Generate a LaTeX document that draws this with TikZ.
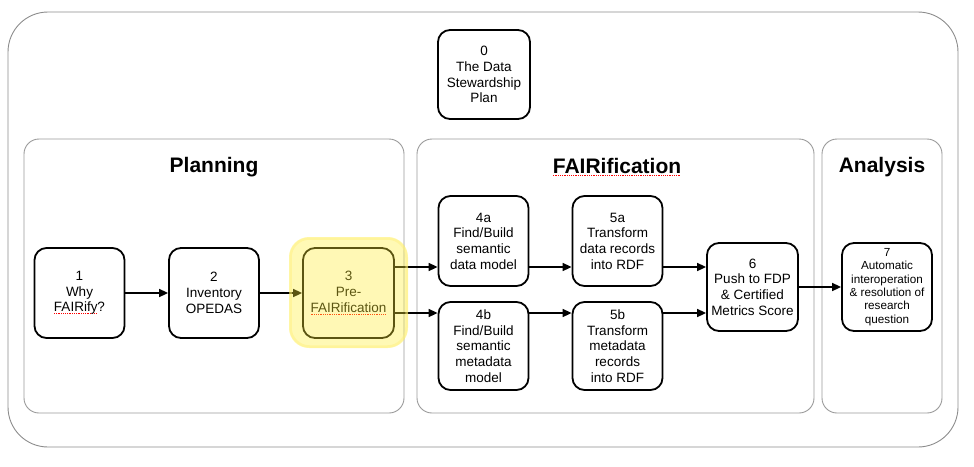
\documentclass[tikz,border=0pt]{standalone}
\usepackage{fontspec}
\setmainfont{Liberation Sans}
\usetikzlibrary{arrows.meta,calc}
\definecolor{panelgray}{HTML}{9A9A9A}
\definecolor{outergray}{HTML}{8C8C8C}
\definecolor{glowyellow}{HTML}{FFEE33}
\definecolor{glowedge}{HTML}{FFF080}
\newsavebox\sqbox
\newcommand\spellsq[1]{\sbox\sqbox{#1}\rlap{\raisebox{-2.2pt}{\textcolor{red}{\hbox to\wd\sqbox{\xleaders\hbox{\rule{0.9pt}{0.9pt}\hspace{0.9pt}}\hfill}}}}\usebox\sqbox}
\tikzset{
  stepbox/.style={draw=black, line width=1.8pt, rounded corners=12pt, fill=white,
    minimum width=90pt, minimum height=90pt, align=center, inner sep=1pt,
    font=\fontsize{13.5}{15.7}\selectfont},
  panel/.style={draw=panelgray, line width=0.9pt, rounded corners=15pt},
  paneltitle/.style={font=\fontsize{21}{24}\selectfont\bfseries},
  flow/.style={draw=black, line width=1.6pt, -{Triangle[length=9pt,width=8pt]}},
}
\begin{document}
\begin{tikzpicture}[x=1pt,y=-1pt]
\useasboundingbox (0,0) rectangle (974,466);
% outer frame
\draw[outergray, line width=0.9pt, rounded corners=40pt] (8,12) rectangle (958,447);
% panels
\draw[panel] (24,139) rectangle (404,413);
\draw[panel] (417,139) rectangle (814,413);
\draw[panel] (822,139) rectangle (942,413);
\node[paneltitle] (tplan) at (214,167) {Planning};
\node[paneltitle] (tfair) at (617,167) {\spellsq{FAIRification}};
\node[paneltitle] (tana) at (882,167) {Analysis};
% step boxes
\node[stepbox, minimum width=92pt, minimum height=89pt] (b0) at (484,74.5) {0\\The Data\\Stewardship\\Plan};
\node[stepbox] (b1) at (79.5,293) {1\\Why\\\spellsq{FAIRify}?};
\node[stepbox] (b2) at (214,293) {2\\Inventory\\OPEDAS};
\node[stepbox, minimum width=91pt] (b3) at (348.5,293) {3\\Pre-\\\spellsq{FAIRification}};
\node[stepbox] (b4a) at (483.5,241) {4a\\Find/Build\\semantic\\data model};
\node[stepbox, minimum height=88pt] (b4b) at (483.5,346) {4b\\Find/Build\\semantic\\metadata\\model};
\node[stepbox] (b5a) at (617.5,241) {5a\\Transform\\data records\\into RDF};
\node[stepbox, minimum height=88pt] (b5b) at (617.5,346) {5b\\Transform\\metadata\\records\\into RDF};
\node[stepbox, minimum width=91pt, minimum height=88pt] (b6) at (752.5,287) {6\\Push to FDP\\\&~Certified\\Metrics Score};
\node[stepbox, minimum height=88pt, font=\fontsize{11.7}{13.3}\selectfont] (b7) at (887,287) {7\\Automatic\\interoperation\\\&~resolution of\\research\\question};
% connector levels
\coordinate (ya) at (0,267);
\coordinate (yb) at (0,313);
% connectors
\draw[flow] (b1) -- (b2);
\draw[flow] (b2) -- (b3);
\draw[flow] (b3.east |- ya) -- (b4a.west |- ya);
\draw[flow] (b3.east |- yb) -- (b4b.west |- yb);
\draw[flow] (b4a.east |- ya) -- (b5a.west |- ya);
\draw[flow] (b4b.east |- yb) -- (b5b.west |- yb);
\draw[flow] (b5a.east |- ya) -- (b6.west |- ya);
\draw[flow] (b5b.east |- yb) -- (b6.west |- yb);
\draw[flow] (b6) -- (b7);
% highlight glow over step 3
\fill[glowyellow, opacity=0.36, rounded corners=20pt] (289,237) rectangle (408,348);
\draw[glowedge, opacity=0.5, line width=2.5pt, rounded corners=19pt] (290.5,238.5) rectangle (406.5,346.5);
\end{tikzpicture}
\end{document}
